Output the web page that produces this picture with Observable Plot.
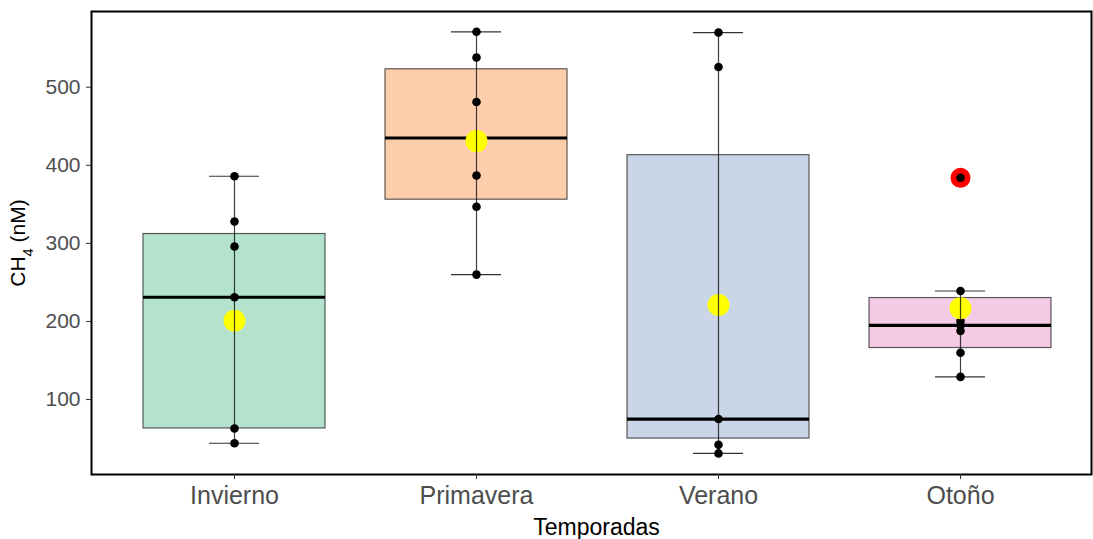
<!DOCTYPE html>
<html><head><meta charset="utf-8">
<script src="https://cdn.jsdelivr.net/npm/d3@7"></script>
<script src="https://cdn.jsdelivr.net/npm/@observablehq/plot@0.6"></script>
<style>body{margin:0;background:#fff} svg{font-family:"Liberation Sans",Arial,sans-serif}</style>
</head><body><div id="chart"></div>
<script>
const seasons = ["Invierno", "Primavera", "Verano", "Otoño"];
const fills = ["#b3e2cd", "#fdcdac", "#cbd5e8", "#f4cae4"];
const q1 = [63, 356, 50, 166];
const median = [231, 435, 75, 195];
const q3 = [312, 523, 413, 230];
const whiskerLow = [44, 260, 31, 129];
const whiskerHigh = [386, 571, 570, 239];
const means = [201, 431, 221, 217];
const pointSeason = ["Invierno","Invierno","Invierno","Invierno","Invierno","Invierno",
  "Primavera","Primavera","Primavera","Primavera","Primavera","Primavera",
  "Verano","Verano","Verano","Verano","Verano",
  "Otoño","Otoño","Otoño","Otoño","Otoño","Otoño","Otoño"];
const pointValue = [386, 328, 296, 231, 63, 44,
  571, 538, 481, 387, 347, 260,
  570, 526, 75, 42, 31,
  384, 239, 201, 195, 188, 160, 129];
const outlierSeason = ["Otoño"];
const outlierValue = [384];
const yTicks = [100, 200, 300, 400, 500];

const boxes = seasons.map((s, i) => ({season: s, q1: q1[i], median: median[i], q3: q3[i], lo: whiskerLow[i], hi: whiskerHigh[i], mean: means[i]}));
const points = pointSeason.map((s, i) => ({season: s, value: pointValue[i]}));
const outliers = outlierSeason.map((s, i) => ({season: s, value: outlierValue[i]}));

const chart = Plot.plot({
  width: 1093, height: 539,
  marginLeft: 91, marginRight: 2, marginTop: 11, marginBottom: 65,
  style: {fontFamily: '"Liberation Sans", Arial, sans-serif', background: "white", overflow: "visible"},
  x: {domain: seasons, paddingInner: 0.25, paddingOuter: 0.225, range: [88.5, 1105]},
  y: {domain: [4, 597]},
  color: {domain: seasons, range: fills},
  marks: [
    Plot.barY(boxes, {x: "season", y1: "q1", y2: "q3", fill: "season", stroke: "#333333", strokeOpacity: 0.8, strokeWidth: 1.2}),
    Plot.tickY(boxes, {x: "season", y: "median", stroke: "black", strokeWidth: 3.2}),
    Plot.dot(outliers, {x: "season", y: "value", r: 10, fill: "red"}),
    Plot.dot(points, {x: "season", y: "value", r: 4.3, fill: "black"}),
    Plot.dot(boxes, {x: "season", y: "mean", r: 11, fill: "yellow"}),
    Plot.ruleX(boxes, {x: "season", y1: "lo", y2: "hi", stroke: "black", strokeOpacity: 0.75, strokeWidth: 1.2}),
    Plot.tickY(boxes, {x: "season", y: "lo", insetLeft: 66, insetRight: 66, stroke: "black", strokeOpacity: 0.8, strokeWidth: 1.2}),
    Plot.tickY(boxes, {x: "season", y: "hi", insetLeft: 66, insetRight: 66, stroke: "black", strokeOpacity: 0.8, strokeWidth: 1.2}),
    Plot.frame({stroke: "black", strokeWidth: 2}),
    Plot.axisY({ticks: yTicks, tickSize: 5, tickPadding: 6, fontSize: 21, color: "#4d4d4d", stroke: "#333",
      label: "CH4 (nM)", labelAnchor: "center", labelArrow: "none", labelOffset: 81}),
    Plot.axisX({tickSize: 5, tickPadding: 7, fontSize: 25, color: "#4d4d4d", stroke: "#333",
      label: "Temporadas", labelAnchor: "center", labelArrow: "none", labelOffset: 60})
  ]
});
document.getElementById("chart").appendChild(chart);
// style axis titles
d3.select(chart).selectAll("g[aria-label='y-axis label'] text")
  .attr("fill", "black").attr("font-size", 21);
d3.select(chart).selectAll("g[aria-label='x-axis label'] text")
  .attr("fill", "black").attr("font-size", 23).attr("dx", 5);
d3.select(chart).selectAll("g[aria-label='y-axis label'] text").each(function() {
  const t = d3.select(this);
  t.text(null);
  t.append("tspan").text("CH");
  t.append("tspan").attr("baseline-shift", "sub").attr("font-size", "70%").text("4");
  t.append("tspan").text(" (nM)");
});
</script>
</body></html>
